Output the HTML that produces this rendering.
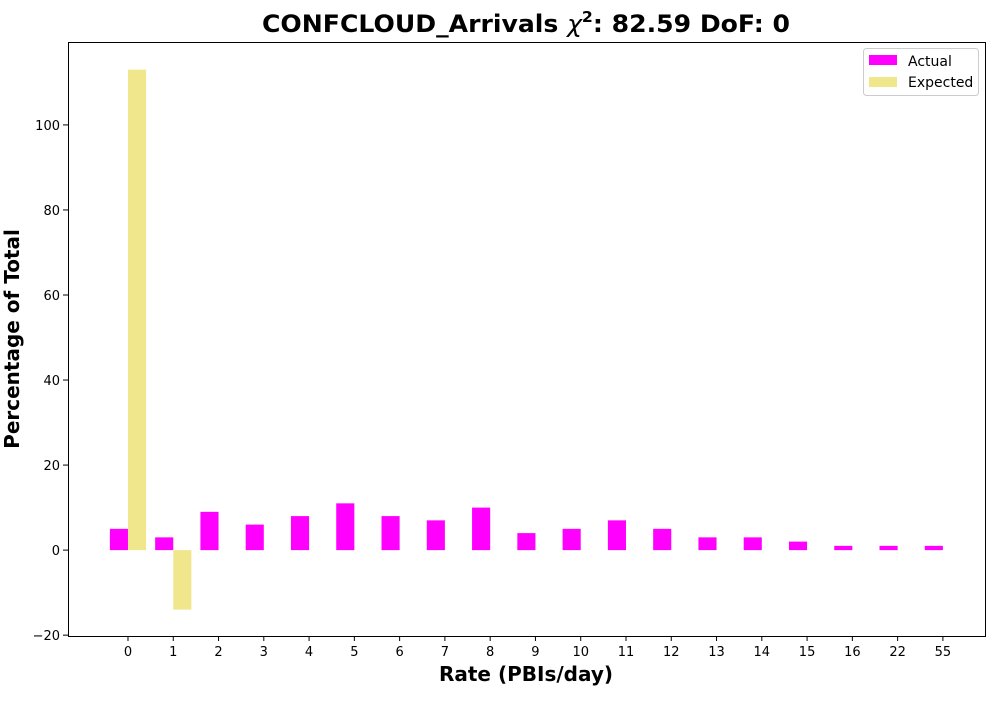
<!DOCTYPE html>
<html><head><meta charset="utf-8"><style>
body{margin:0;background:#fff;font-family:"Liberation Sans","DejaVu Sans",sans-serif;}
</style></head><body>
<svg id="chart" width="1000" height="700" xmlns="http://www.w3.org/2000/svg" font-family="DejaVu Sans, Liberation Sans, sans-serif">
<rect width="1000" height="700" fill="#fff"/>
<text x="526" y="32" text-anchor="middle" font-size="24" font-weight="bold" textLength="528" lengthAdjust="spacingAndGlyphs">CONFCLOUD_Arrivals <tspan font-style="italic" font-weight="normal">χ</tspan><tspan font-size="15" dy="-10">2</tspan><tspan dy="10">: 82.59 DoF: 0</tspan></text>
<g id="marks"></g>
<g id="axes"></g>
<rect x="68.5" y="42.5" width="917" height="594" fill="none" stroke="#000" stroke-width="1"/>
<text x="526" y="681" text-anchor="middle" font-size="20" font-weight="bold">Rate (PBIs/day)</text>
<text transform="translate(19,339) rotate(-90)" text-anchor="middle" font-size="20" font-weight="bold">Percentage of Total</text>
<g>
<rect x="863.5" y="48.5" width="115" height="47" rx="3" fill="#fff" stroke="#ccc"/>
<rect x="869" y="55" width="28" height="10" fill="#ff00ff"/>
<text x="908" y="66" font-size="14">Actual</text>
<rect x="869" y="77" width="28" height="10" fill="#f0e68c"/>
<text x="908" y="87" font-size="14">Expected</text>
</g>
</svg>
<script>
const categories=["0","1","2","3","4","5","6","7","8","9","10","11","12","13","14","15","16","22","55"];
const actualValues=[5,3,9,6,8,11,8,7,10,4,5,7,5,3,3,2,1,1,1];
const expectedValues=[113,-14,0,0,0,0,0,0,0,0,0,0,0,0,0,0,0,0,0];
const yTicks=[-20,0,20,40,60,80,100];
const NS="http://www.w3.org/2000/svg";
const x0=68,x1=985,y0=42,y1=636;
const xmin=-1.325,xmax=18.93,ymin=-20.2,ymax=119.5;
function xs(v){return x0+(v-xmin)/(xmax-xmin)*(x1-x0);}
function ys(v){return y1-(v-ymin)/(ymax-ymin)*(y1-y0);}
const marks=document.getElementById('marks'),axes=document.getElementById('axes');
function mk(t,a,p){const e=document.createElementNS(NS,t);for(const k in a)e.setAttribute(k,a[k]);p.appendChild(e);return e;}
const bw=0.4;
categories.forEach((c,i)=>{
  const a=actualValues[i],e=expectedValues[i];
  const r1=mk('rect',{x:xs(i-bw),width:xs(i)-xs(i-bw),y:Math.min(ys(a),ys(0)),height:Math.abs(ys(a)-ys(0)),fill:'#ff00ff'},marks);
  
  
  const r2=mk('rect',{x:xs(i),width:xs(i+bw)-xs(i),y:Math.min(ys(e),ys(0)),height:Math.abs(ys(e)-ys(0)),fill:'#f0e68c'},marks);
  
  
  const tx=xs(i);
  mk('line',{x1:tx,x2:tx,y1:y1,y2:y1+5,stroke:'#000'},axes);
  const t=mk('text',{x:tx,y:y1+20,'text-anchor':'middle','font-size':'13'},axes);
  t.textContent=c;
  
  
});
yTicks.forEach(v=>{
  const y=ys(v);
  mk('line',{x1:x0-5,x2:x0,y1:y,y2:y,stroke:'#000'},axes);
  const t=mk('text',{x:x0-8,y:y+5,'text-anchor':'end','font-size':'13'},axes);
  t.textContent=v<0?'\u2212'+(-v):v;
  
  
});
</script>
</body></html>
